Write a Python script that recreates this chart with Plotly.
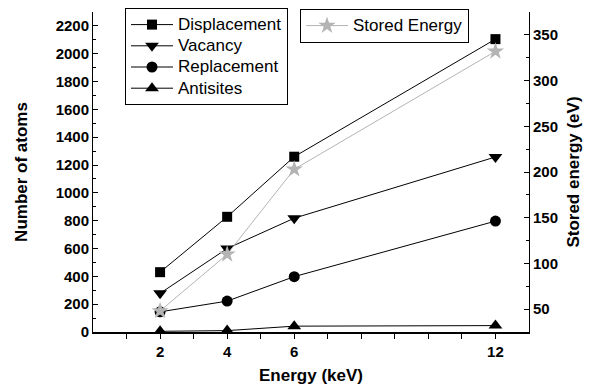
import plotly.graph_objects as go

energy = [2, 4, 6, 12]
displacement = [430, 828, 1260, 2105]
vacancy = [278, 600, 818, 1258]
replacement = [145, 222, 398, 797]
antisites = [5, 10, 42, 46]
stored_energy = [48, 110, 203, 332]

x_tick_vals = [1, 2, 3, 4, 5, 6, 7, 8, 9, 10, 11, 12]
x_tick_text = ["", "2", "", "4", "", "6", "", "", "", "", "", "12"]

FONT = "Liberation Sans"
fig = go.Figure()

def add(name, y, sym, size, color="black", axis="y", legend="legend"):
    fig.add_trace(go.Scatter(
        x=energy, y=y, name="<span style='font-size:17px'>%s</span>" % name,
        mode="lines+markers", yaxis=axis, legend=legend,
        line=dict(color=color, width=1),
        marker=dict(symbol=sym, size=size, color=color, line=dict(width=0)),
    ))

add("Displacement", displacement, "square", 10)
add("Vacancy", vacancy, "triangle-down", 12)
add("Replacement", replacement, "circle", 11)
add("Antisites", antisites, "triangle-up", 12)
add("Stored Energy", stored_energy, "star", 13, color="#b4b4b4", axis="y2", legend="legend2")

dom = [0, 320 / 324]

fig.update_layout(
    width=593, height=388,
    margin=dict(l=93, r=64, t=8, b=56, autoexpand=False),
    paper_bgcolor="white", plot_bgcolor="white",
    font=dict(family=FONT, color="black"),
    xaxis=dict(range=[0, 13], showline=True, linecolor="black", linewidth=1.5,
               tickvals=x_tick_vals, ticktext=x_tick_text,
               ticks="outside", ticklen=5, tickcolor="black",
               tickfont=dict(size=15, family=FONT, weight="bold"),
               showgrid=False, zeroline=False,
               title=dict(text="<b>Energy (keV)</b>", font=dict(size=17, family=FONT), standoff=10)),
    yaxis=dict(range=[0, 2300], domain=dom, showline=True, linecolor="black", linewidth=1,
               tick0=0, dtick=200, ticks="inside", ticklen=5, tickcolor="black",
               minor=dict(dtick=100, ticks="inside", ticklen=3, tickcolor="black"),
               tickfont=dict(size=15, family=FONT, weight="bold"),
               showgrid=False, zeroline=False,
               title=dict(text="<b>Number of atoms</b>", font=dict(size=17, family=FONT), standoff=23)),
    yaxis2=dict(range=[25, 375], domain=dom, overlaying="y", side="right", showline=True,
                linecolor="black", linewidth=1,
                tickvals=[50, 100, 150, 200, 250, 300, 350],
                ticks="inside", ticklen=5, tickcolor="black",
                minor=dict(dtick=25, ticks="inside", ticklen=3, tickcolor="black"),
                tickfont=dict(size=15, family=FONT, weight="bold"),
                showgrid=False, zeroline=False,
                title=dict(text="<b>Stored energy (eV)</b>", font=dict(size=17, family=FONT), standoff=10)),
    legend=dict(x=0.0734, y=1.0, xanchor="left", yanchor="top",
                bordercolor="black", borderwidth=1, bgcolor="white",
                font=dict(size=14, family=FONT), tracegroupgap=0, itemwidth=42),
    legend2=dict(x=0.4748, y=0.997, xanchor="left", yanchor="top",
                 bordercolor="black", borderwidth=1, bgcolor="white",
                 font=dict(size=14, family=FONT), itemwidth=42),
)

fig.write_html("out.html")
